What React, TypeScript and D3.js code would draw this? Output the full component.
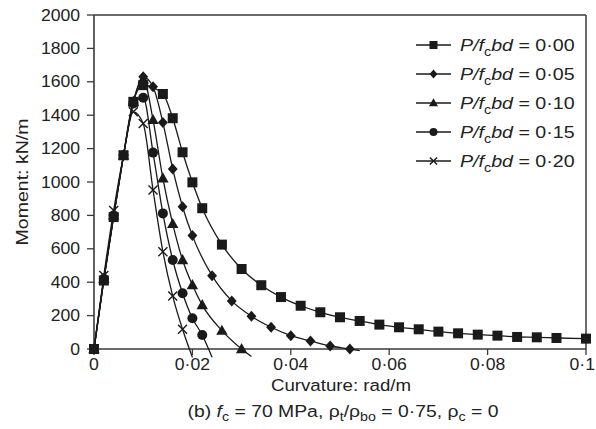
import React from "react";
import * as d3 from "d3";

const xTickValues = [0, 0.02, 0.04, 0.06, 0.08, 0.1];
const xTickLabels = ["0", "0·02", "0·04", "0·06", "0·08", "0·1"];
const yTickValues = [0, 200, 400, 600, 800, 1000, 1200, 1400, 1600, 1800, 2000];

const seriesNames = ["0·00", "0·05", "0·10", "0·15", "0·20"];
const seriesSymbols = ["square", "diamond", "triangle", "circle", "cross"];

const curvP000 = [0, 0.002, 0.004, 0.006, 0.008, 0.010, 0.014, 0.016, 0.018, 0.020, 0.022, 0.026, 0.030, 0.034, 0.038, 0.042, 0.046, 0.050, 0.054, 0.058, 0.062, 0.066, 0.070, 0.074, 0.078, 0.082, 0.086, 0.090, 0.094, 0.100];
const momP000 = [0, 410, 790, 1160, 1480, 1580, 1527, 1382, 1178, 998, 843, 625, 479, 382, 311, 259, 220, 190, 168, 146, 130, 118, 104, 94, 86, 80, 72, 70, 66, 62];

const curvP005 = [0, 0.002, 0.004, 0.006, 0.008, 0.010, 0.012, 0.014, 0.016, 0.018, 0.020, 0.024, 0.028, 0.032, 0.036, 0.040, 0.044, 0.048, 0.052, 0.054];
const momP005 = [0, 420, 800, 1160, 1480, 1630, 1570, 1356, 1078, 852, 679, 439, 288, 196, 130, 80, 48, 18, 0, -10];

const curvP010 = [0, 0.002, 0.004, 0.006, 0.008, 0.010, 0.012, 0.014, 0.016, 0.018, 0.020, 0.022, 0.026, 0.030, 0.032];
const momP010 = [0, 420, 800, 1160, 1480, 1615, 1372, 1022, 749, 533, 383, 263, 110, 0, -45];

const curvP015 = [0, 0.002, 0.004, 0.006, 0.008, 0.010, 0.012, 0.014, 0.016, 0.018, 0.020, 0.022, 0.024];
const momP015 = [0, 420, 800, 1160, 1470, 1505, 1176, 812, 533, 334, 184, 84, -50];

const curvP020 = [0, 0.002, 0.004, 0.006, 0.008, 0.010, 0.012, 0.014, 0.016, 0.018, 0.020];
const momP020 = [0, 440, 830, 1160, 1420, 1350, 952, 583, 317, 118, -50];

const curvatures = [curvP000, curvP005, curvP010, curvP015, curvP020];
const moments = [momP000, momP005, momP010, momP015, momP020];

const W = 596;
const H = 429;
const left = 94;
const right = 586;
const top = 15;
const bottom = 349;
const ink = "#1a1a1a";
const axisColor = "#3a3a3a";
const textColor = "#222";
const font = "'Liberation Sans', Arial, Helvetica, sans-serif";

function SText({
  x,
  y,
  sx = 1,
  rotate = 0,
  anchor = "start",
  size,
  children,
}: {
  x: number;
  y: number;
  sx?: number;
  rotate?: number;
  anchor?: string;
  size: number;
  children: React.ReactNode;
}) {
  return (
    <text
      transform={`translate(${x},${y}) rotate(${rotate}) scale(${sx},1)`}
      textAnchor={anchor as any}
      fontSize={size}
      fill={textColor}
    >
      {children}
    </text>
  );
}

function Marker({ kind, x, y, scale = 1 }: { kind: string; x: number; y: number; scale?: number }) {
  const s = scale;
  if (kind === "square") {
    const h = 5 * s;
    return <rect x={x - h} y={y - h} width={2 * h} height={2 * h} fill={ink} />;
  }
  if (kind === "diamond") {
    const a = 5.5 * s;
    return <path d={`M${x},${y - a}L${x + a * 0.9},${y}L${x},${y + a}L${x - a * 0.9},${y}Z`} fill={ink} />;
  }
  if (kind === "triangle") {
    const a = 6 * s;
    return <path d={`M${x},${y - a}L${x + a * 0.95},${y + a * 0.7}L${x - a * 0.95},${y + a * 0.7}Z`} fill={ink} />;
  }
  if (kind === "circle") {
    return <circle cx={x} cy={y} r={5 * s} fill={ink} />;
  }
  const c = 4.5 * s;
  return (
    <path d={`M${x - c},${y - c}L${x + c},${y + c}M${x - c},${y + c}L${x + c},${y - c}`} stroke={ink} strokeWidth={1.4} fill="none" />
  );
}

export default function App() {
  const x = d3.scaleLinear().domain([0, 0.1]).range([left, right]);
  const y = d3.scaleLinear().domain([0, 2000]).range([bottom, top]);
  const line = d3
    .line<[number, number]>()
    .x((d) => x(d[0]))
    .y((d) => y(d[1]))
    .curve(d3.curveMonotoneX);

  const series = curvatures.map((cs, i) => cs.map((c, j) => [c, moments[i][j]] as [number, number]));
  const order = [4, 3, 2, 1, 0];

  return (
    <svg width={W} height={H} style={{ position: "absolute", left: 0, top: 0, background: "#fff" }} fontFamily={font}>
      <rect x={0} y={0} width={W} height={H} fill="#fff" />
      {/* frame */}
      <line x1={left} y1={top} x2={right} y2={top} stroke={axisColor} strokeWidth={1.5} />
      <line x1={right} y1={top} x2={right} y2={bottom} stroke={axisColor} strokeWidth={1.5} />
      <line x1={left} y1={top} x2={left} y2={bottom} stroke={axisColor} strokeWidth={1.6} />
      <line x1={left} y1={bottom} x2={right} y2={bottom} stroke={axisColor} strokeWidth={1.6} />
      {/* y ticks */}
      {yTickValues.map((v) => (
        <g key={"y" + v}>
          <line x1={left - 7} x2={left} y1={y(v)} y2={y(v)} stroke={axisColor} strokeWidth={1.3} />
          <SText x={80} y={y(v) + 5.6} anchor="end" size={16} sx={1.1}>
            {v}
          </SText>
        </g>
      ))}
      {/* x ticks */}
      {xTickValues.map((v, i) => {
        const last = i === xTickValues.length - 1;
        return (
          <g key={"x" + v}>
            <line x1={x(v)} x2={x(v)} y1={bottom} y2={bottom + 6} stroke={axisColor} strokeWidth={1.3} />
            <SText x={last ? W - 1 : x(v)} y={370} anchor={last ? "end" : "middle"} size={16} sx={1.1}>
              {xTickLabels[i]}
            </SText>
          </g>
        );
      })}
      {/* series */}
      {order.map((i) => (
        <g key={"s" + i}>
          <path d={line(series[i]) || ""} fill="none" stroke={ink} strokeWidth={1.3} />
          {series[i]
            .filter((d) => d[1] >= 0)
            .map((d, j) => (
              <Marker key={j} kind={seriesSymbols[i]} x={x(d[0])} y={y(d[1])} />
            ))}
        </g>
      ))}
      {/* legend */}
      {seriesNames.map((name, i) => {
        const ly = 45 + i * 29;
        return (
          <g key={"l" + i}>
            <line x1={416} x2={451} y1={ly} y2={ly} stroke={ink} strokeWidth={1.3} />
            <Marker kind={seriesSymbols[i]} x={433.5} y={ly} scale={0.8} />
            <SText x={460} y={ly + 6} size={16.5} sx={1.19}>
              <tspan fontStyle="italic">P/f</tspan>
              <tspan fontSize={12} dy={5}>c</tspan>
              <tspan fontStyle="italic" dy={-5}>bd</tspan>
              <tspan>{" = " + name}</tspan>
            </SText>
          </g>
        );
      })}
      {/* axis titles */}
      <SText x={341} y={391} anchor="middle" size={17} sx={1.1}>
        Curvature: rad/m
      </SText>
      <SText x={28} y={182} rotate={-90} anchor="middle" size={17} sx={1.15}>
        Moment: kN/m
      </SText>
      <SText x={343} y={417} anchor="middle" size={17} sx={1.14}>
        <tspan>(b) </tspan>
        <tspan fontStyle="italic">f</tspan>
        <tspan fontSize={12.5} dy={4}>c</tspan>
        <tspan dy={-4}>{" = 70 MPa, ρ"}</tspan>
        <tspan fontSize={12.5} dy={4}>t</tspan>
        <tspan dy={-4}>/ρ</tspan>
        <tspan fontSize={12.5} dy={4}>bo</tspan>
        <tspan dy={-4}>{" = 0·75, ρ"}</tspan>
        <tspan fontSize={12.5} dy={4}>c</tspan>
        <tspan dy={-4}>{" = 0"}</tspan>
      </SText>
    </svg>
  );
}
